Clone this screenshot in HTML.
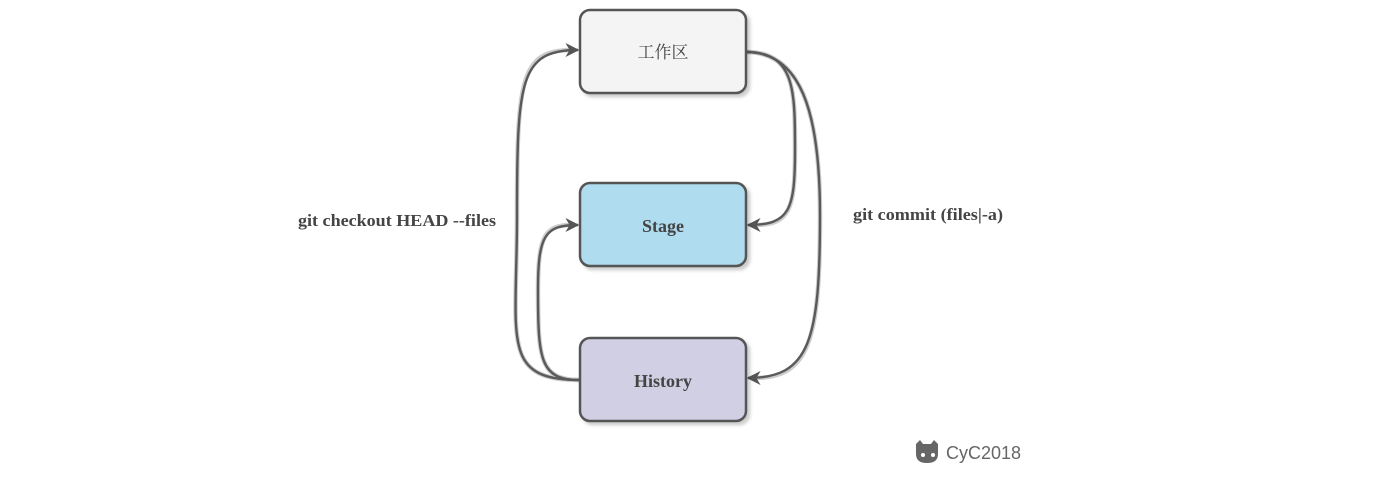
<!DOCTYPE html>
<html><head><meta charset="utf-8"><style>
body{margin:0;background:#fff;}
svg{display:block}
text{font-family:"Liberation Serif","Noto Serif CJK SC",serif;font-weight:bold;fill:#444}
</style></head><body>
<svg width="1384" height="478" viewBox="0 0 1384 478">
<defs>
<filter id="sh" x="-10%" y="-10%" width="130%" height="130%"><feDropShadow dx="3" dy="3" stdDeviation="1.5" flood-color="#000" flood-opacity="0.2"/></filter>
<marker id="ar" viewBox="0 0 10 10" refX="9" refY="5" markerWidth="14" markerHeight="14" orient="auto-start-reverse" markerUnits="userSpaceOnUse"><path d="M0,0 L10,5 L0,10 L3,5 Z" fill="#555"/></marker>
</defs>
<g fill="none" stroke="#ccc" stroke-width="4.5">
<path d="M580,380 C500,380 517,340 517,215 C517,80 520,50 572,50"/>
<path d="M580,380 C540,380 538,360 538,290 C538,235 545,225 572,225"/>
<path d="M746,52 C795,52 795,90 795,150 C795,210 790,225 754,225"/>
<path d="M746,52 C800,52 820,110 820,215 C820,340 810,378 754,378"/>
</g>
<g fill="none" stroke="#5a5a5a" stroke-width="2.4">
<path d="M580,380 C500,380 517,340 517,215 C517,80 520,50 578,50" marker-end="url(#ar)"/>
<path d="M580,380 C540,380 538,360 538,290 C538,235 545,225 578,225" marker-end="url(#ar)"/>
<path d="M746,52 C795,52 795,90 795,150 C795,210 790,225 748,225" marker-end="url(#ar)"/>
<path d="M746,52 C800,52 820,110 820,215 C820,340 810,378 748,378" marker-end="url(#ar)"/>
</g>
<g stroke="#555" stroke-width="2.5" filter="url(#sh)">
<rect x="580" y="10" width="166" height="83" rx="10" fill="#f4f4f4"/>
<rect x="580" y="183" width="166" height="83" rx="10" fill="#afdcee"/>
<rect x="580" y="338" width="166" height="83" rx="10" fill="#d0cfe3"/>
</g>
<text x="663" y="58" font-size="17" text-anchor="middle" style="font-weight:normal">工作区</text>
<text x="663" y="232" font-size="18" text-anchor="middle">Stage</text>
<text x="663" y="387" font-size="18" text-anchor="middle">History</text>
<text x="298" y="226" font-size="17" textLength="198" lengthAdjust="spacingAndGlyphs">git checkout HEAD --files</text>
<text x="853" y="220" font-size="17" textLength="150" lengthAdjust="spacingAndGlyphs">git commit (files|-a)</text>
<g fill="#666">
<path d="M916,444 l4,-4 l3,4 h8 l3,-4 l4,4 v10 q0,9 -11,9 q-11,0 -11,-9 z"/>
<circle cx="923" cy="455" r="2" fill="#fff"/><circle cx="933" cy="455" r="2" fill="#fff"/>
</g>
<text x="946" y="459" font-size="18" style="font-family:'Liberation Sans',sans-serif;font-weight:normal;fill:#666">CyC2018</text>
</svg>
</body></html>
